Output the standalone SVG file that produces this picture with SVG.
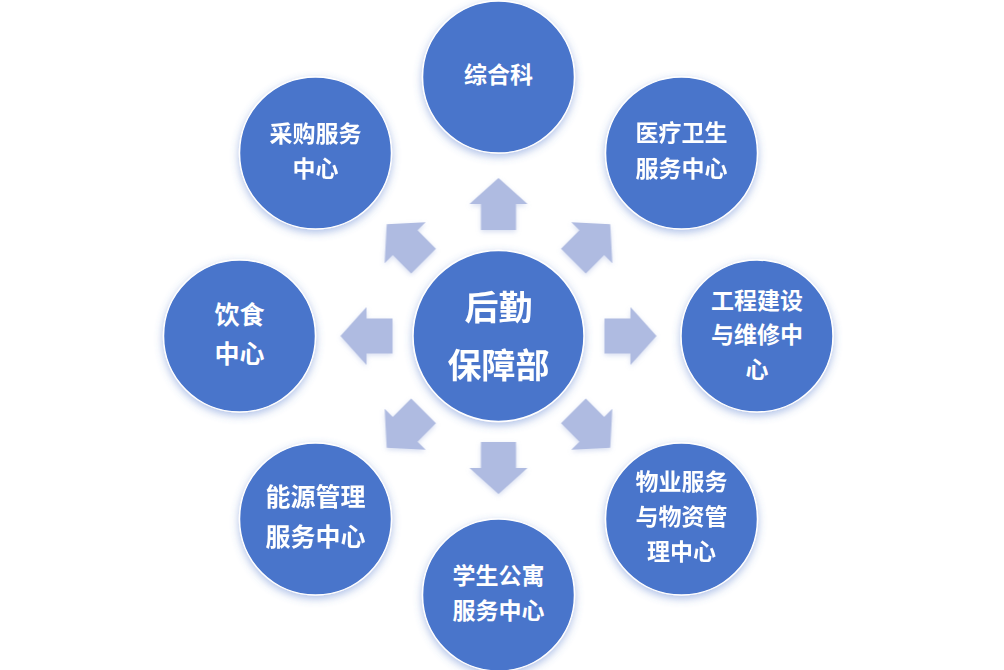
<svg xmlns="http://www.w3.org/2000/svg" width="1004" height="670" viewBox="0 0 1004 670">
  <defs>
    <filter id="cshadow" x="-30%" y="-30%" width="160%" height="160%">
      <feDropShadow dx="0" dy="3" stdDeviation="4" flood-color="#4874CB" flood-opacity="0.45"/>
    </filter>
    <filter id="ashadow" x="-30%" y="-30%" width="160%" height="160%">
      <feDropShadow dx="0" dy="2" stdDeviation="2.5" flood-color="#8FA2D8" flood-opacity="0.35"/>
    </filter>
    <path id="arr" d="M106,-17.5 L132,-17.5 L132,-29 L158,0 L132,29 L132,17.5 L106,17.5 Z"/>
  </defs>
  <style>
    .node circle { fill: #4874CB; stroke: #FFFFFF; stroke-width: 1.5; filter: url(#cshadow); }
    .node text { fill: #FFFFFF; font-family: "Noto Sans CJK SC", "Noto Sans", sans-serif; font-weight: bold; font-size: 23px; text-anchor: middle; dominant-baseline: central; }
    .node text.big { font-size: 25px; }
    .node text.center { font-size: 34px; }
  </style>
  <rect width="1004" height="670" fill="#FFFFFF"/>

  <g id="connectors" fill="#AFBBE1" filter="url(#ashadow)" transform="translate(498.5,336)">
    <use href="#arr" transform="rotate(-90)"/>
    <use href="#arr" transform="rotate(-45)"/>
    <use href="#arr" transform="rotate(0)"/>
    <use href="#arr" transform="rotate(45)"/>
    <use href="#arr" transform="rotate(90)"/>
    <use href="#arr" transform="rotate(135)"/>
    <use href="#arr" transform="rotate(180)"/>
    <use href="#arr" transform="rotate(225)"/>
  </g>

  <g id="node-center" class="node">
    <circle cx="498.5" cy="336" r="85.5"/>
    <text class="center" x="498.5" y="305">后勤</text>
    <text class="center" x="498.5" y="363">保障部</text>
  </g>
  <g id="node-zonghe" class="node">
    <circle cx="498.5" cy="77" r="76"/>
    <text x="498.5" y="73">综合科</text>
  </g>
  <g id="node-yiliao" class="node">
    <circle cx="681.5" cy="153" r="76"/>
    <text x="681.5" y="131">医疗卫生</text>
    <text x="681.5" y="167">服务中心</text>
  </g>
  <g id="node-gongcheng" class="node">
    <circle cx="757" cy="336" r="76"/>
    <text x="757" y="299">工程建设</text>
    <text x="757" y="333">与维修中</text>
    <text x="757" y="368">心</text>
  </g>
  <g id="node-wuye" class="node">
    <circle cx="681.5" cy="519" r="76"/>
    <text x="681.5" y="480">物业服务</text>
    <text x="681.5" y="515">与物资管</text>
    <text x="681.5" y="550">理中心</text>
  </g>
  <g id="node-xuesheng" class="node">
    <circle cx="498.5" cy="595" r="76"/>
    <text x="498.5" y="574">学生公寓</text>
    <text x="498.5" y="609">服务中心</text>
  </g>
  <g id="node-nengyuan" class="node">
    <circle cx="315.5" cy="519" r="76"/>
    <text class="big" x="315.5" y="495">能源管理</text>
    <text class="big" x="315.5" y="535">服务中心</text>
  </g>
  <g id="node-yinshi" class="node">
    <circle cx="239.5" cy="336" r="76"/>
    <text class="big" x="239.5" y="313">饮食</text>
    <text class="big" x="239.5" y="352">中心</text>
  </g>
  <g id="node-caigou" class="node">
    <circle cx="315.5" cy="153" r="76"/>
    <text x="315.5" y="132">采购服务</text>
    <text x="315.5" y="167">中心</text>
  </g>
</svg>
